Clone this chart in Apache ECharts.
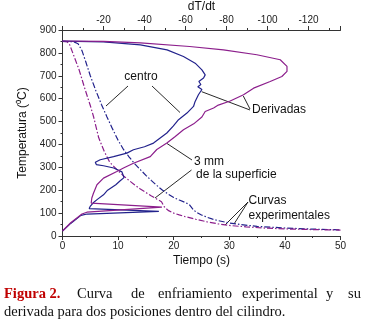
<!DOCTYPE html>
<html>
<head>
<meta charset="utf-8">
<script src="https://cdn.jsdelivr.net/npm/echarts@6/dist/echarts.min.js"></script>
<style>
  html, body { margin: 0; padding: 0; background: #fff; }
  #chart { width: 379px; height: 328px; }
</style>
</head>
<body>
<div id="chart"></div>
<script>
// Curvas experimentales: tiempo (s) vs temperatura
const centroTiempo = [0, 2, 2.8, 3.5, 4.2, 5, 6, 7, 8, 9, 10, 11, 12, 13, 14, 15, 16, 17, 18, 19, 20, 21, 22, 22.8, 23.5, 24, 25, 26, 27, 28, 30, 32, 35, 40, 45, 50];
const centroTemp = [850, 849, 840, 810, 760, 700, 635, 575, 520, 468, 418, 377, 345, 315, 290, 265, 242, 220, 200, 183, 168, 157, 147, 138, 116, 105, 92, 82, 74, 67, 57, 50, 42, 35, 30, 27];

const superfTiempo = [0, 0.8, 1.3, 2, 3, 3.5, 4, 5, 5.6, 6.5, 7.5, 8.5, 9.8, 11, 12, 13, 14, 15, 16, 17, 17.8, 18.3, 19, 20, 21, 22, 24, 26, 28, 30, 33, 36, 40, 45, 50];
const superfTemp = [850, 849, 835, 790, 725, 685, 645, 570, 520, 430, 370, 322, 290, 262, 242, 223, 205, 190, 175, 161, 150, 128, 112, 100, 92, 85, 73, 62, 53, 46, 40, 35, 31, 28, 26];

// Derivadas: |dT/dt| vs temperatura
const centroDeriv = [0, 20, 38, 51, 59, 64.7, 68, 69.6, 68.8, 66.5, 67.5, 66, 68, 66.3, 64.7, 63.9, 60.7, 56.6, 54, 50.9, 44.4, 40, 34.6, 31.4, 24.9, 18.4, 16, 16.5, 20, 25, 29, 30, 28, 26, 22, 20, 17, 15, 13.5, 13, 47, 12, 9, 4, 0];
const centroDerivTemp = [851, 848, 835, 813, 784, 755, 726, 704, 690, 675, 662, 652, 640, 617, 588, 566, 537, 508, 480, 450, 406, 390, 377, 362, 347, 333, 322, 312, 307, 297, 280, 255, 240, 224, 200, 180, 160, 145, 129, 120, 108, 96, 90, 55, 22];

const superfDeriv = [0, 20, 38, 62, 78.5, 94.8, 106.2, 109.5, 109.5, 107, 101.3, 93.2, 88.3, 81.8, 76, 73.7, 69.6, 68, 64, 59, 55, 50.9, 46, 42.8, 34.6, 30, 26.5, 20, 16.8, 15.1, 14.3, 14, 48.5, 11.9, 9.5, 4, 0];
const superfDerivTemp = [852, 850, 844, 828, 813, 792, 770, 741, 719, 697, 675, 646, 617, 590, 572, 559, 544, 520, 490, 464, 435, 406, 378, 347, 318, 298, 282, 253, 224, 187, 166, 144, 126, 104, 96, 58, 22];

const azul = '#22228c';
const morado = '#8c1f8c';
const font = '"Liberation Sans", Arial, sans-serif';
const serif = '"Liberation Serif", "Times New Roman", serif';

const pares = (xs, ys) => xs.map((x, i) => [x, ys[i]]);

const axisBase = {
  nameMoveOverlap: false,
  axisLine: { show: true, onZero: false, lineStyle: { color: '#333', width: 1 } },
  axisTick: { show: true, inside: false, length: 4, lineStyle: { color: '#333' } },
  minorTick: { show: true, splitNumber: 2, length: 2, lineStyle: { color: '#333' } },
  splitLine: { show: false },
  axisLabel: { color: '#222', fontSize: 10, fontFamily: font },
  nameTextStyle: { color: '#111', fontSize: 12, fontFamily: font },
};

const dashDot = [6, 2, 1.5, 2];

const chart = echarts.init(document.getElementById('chart'));
chart.setOption({
  animation: false,
  backgroundColor: '#fff',
  grid: { left: 62.5, top: 30, right: 38.5, bottom: 92, outerBoundsMode: 'none' },
  xAxis: [
    Object.assign({}, axisBase, {
      type: 'value', min: 0, max: 50, interval: 10, position: 'bottom',
      name: 'Tiempo (s)', nameLocation: 'middle', nameGap: 19,
      axisLabel: Object.assign({}, axisBase.axisLabel, { margin: 5 }),
    }),
    Object.assign({}, axisBase, {
      type: 'value', min: 0, max: 135.6, interval: 20, position: 'top',
      name: 'dT/dt', nameLocation: 'middle', nameGap: 17,
      axisLabel: Object.assign({}, axisBase.axisLabel, {
        margin: 5,
        formatter: (v) => (v > 0 && v % 20 === 0 ? '-' + v : ''),
      }),
    }),
  ],
  yAxis: [
    Object.assign({}, axisBase, {
      type: 'value', min: 0, max: 900, interval: 100,
      name: 'Temperatura (⁰C)', nameLocation: 'middle', nameGap: 34,
      axisLabel: Object.assign({}, axisBase.axisLabel, { margin: 6 }),
    }),
  ],
  series: [
    {
      name: 'centro', type: 'line', xAxisIndex: 0, yAxisIndex: 0,
      data: pares(centroTiempo, centroTemp), showSymbol: false, symbol: 'none',
      lineStyle: { color: azul, width: 1.2, type: dashDot },
    },
    {
      name: '3 mm', type: 'line', xAxisIndex: 0, yAxisIndex: 0,
      data: pares(superfTiempo, superfTemp), showSymbol: false, symbol: 'none',
      lineStyle: { color: morado, width: 1.2, type: dashDot },
    },
    {
      name: 'derivada centro', type: 'line', xAxisIndex: 1, yAxisIndex: 0,
      data: pares(centroDeriv, centroDerivTemp), showSymbol: false, symbol: 'none',
      lineStyle: { color: azul, width: 1.2 },
    },
    {
      name: 'derivada 3 mm', type: 'line', xAxisIndex: 1, yAxisIndex: 0,
      data: pares(superfDeriv, superfDerivTemp), showSymbol: false, symbol: 'none',
      lineStyle: { color: morado, width: 1.2 },
    },
  ],
  graphic: [
    // lineas indicadoras
    ...[
      [128, 86, 106, 106], [152, 86, 180, 112.5],
      [201.7, 91.7, 250, 110], [243.3, 96, 250, 109],
      [192, 160, 167, 143.5], [191.5, 170, 155, 198],
      [248, 202, 225, 225], [248, 202, 234, 224],
    ].map(([x1, y1, x2, y2]) => ({
      type: 'line', shape: { x1, y1, x2, y2 }, style: { stroke: '#111', lineWidth: 0.9 },
    })),
    // textos
    ...[
      ['centro', 141, 77, 'center'],
      ['Derivadas', 252, 110, 'left'],
      ['3 mm', 194, 161.5, 'left'],
      ['de la superficie', 196, 175, 'left'],
      ['Curvas', 248.5, 200.5, 'left'],
      ['experimentales', 248.5, 215.5, 'left'],
    ].map(([text, x, y, align]) => ({
      type: 'text', x, y,
      style: { text, fill: '#111', font: `12px ${font}`, align, verticalAlign: 'middle' },
    })),
    // pie de figura
    {
      type: 'text', x: 4, y: 294,
      style: { text: 'Figura 2.', fill: '#c00000', font: `bold 14.5px ${serif}`, verticalAlign: 'middle' },
    },
    ...[
      ['Curva', 77], ['de', 131], ['enfriamiento', 158], ['experimental', 242], ['y', 326], ['su', 348],
    ].map(([text, x]) => ({
      type: 'text', x, y: 294,
      style: { text, fill: '#111', font: `14.5px ${serif}`, verticalAlign: 'middle' },
    })),
    {
      type: 'text', x: 4, y: 312,
      style: { text: 'derivada para dos posiciones dentro del cilindro.', fill: '#111', font: `14.5px ${serif}`, verticalAlign: 'middle' },
    },
  ],
});
</script>
</body>
</html>
